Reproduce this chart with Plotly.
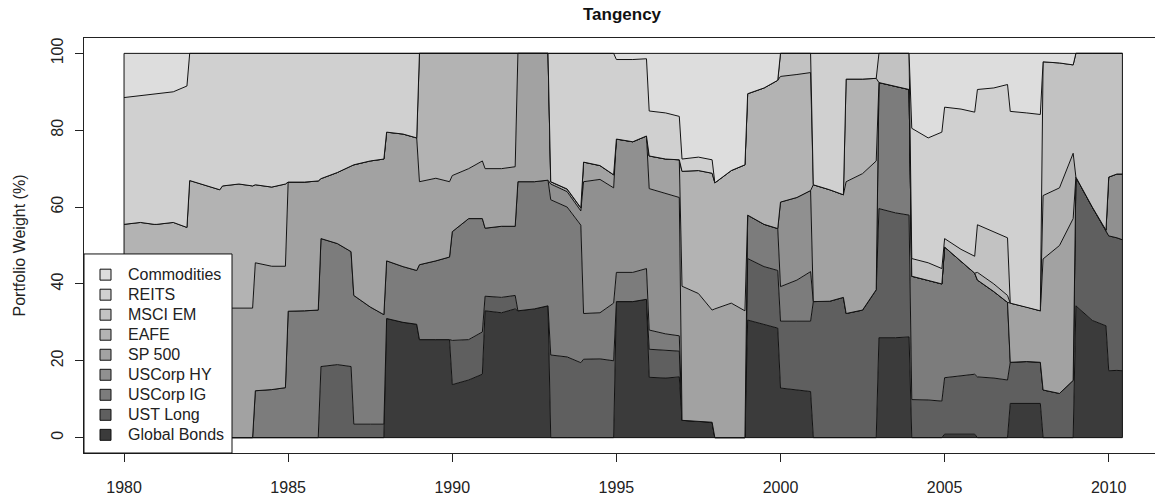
import plotly.graph_objects as go

# ---- sampling grid: Jan, Jul, Dec of each year; 2010 through June ----
dates = []
for yr in range(1980, 2010):
    dates += [yr + 0.0, yr + 0.5, yr + 11 / 12]
dates += [2010.0, 2010.25, 2010.417]

# ---- portfolio weights (%), 3 points per year ----
global_bonds = [
    0, 0, 0,  0, 0, 0,  0, 0, 0,  0, 0, 0,  0, 0, 0,  0, 0, 0,  0, 0, 0,  0, 0, 0,        # 1980-87
    31, 30, 29.5,  25.5, 25.5, 25.5,  13.8, 15, 16.5,  33, 32.5, 33.5,  33, 33.5, 34.3,    # 1988-92
    0, 0, 0,  0, 0, 0,  35.4, 35.4, 36,  15.7, 15.5, 15.8,  4.5, 4.3, 4,                   # 1993-97
    0, 0, 0,  30.6, 29.5, 28.5,  12.9, 12.5, 12,  0, 0, 0,  0, 0, 0,                       # 1998-02
    26, 26, 26.2,  0, 0, 0,  0.9, 0.9, 0.9,  0, 0, 0,  8.9, 8.9, 8.9,                      # 2003-07
    0, 0, 0,  34.3, 30.5, 29.1,  17.4, 17.5, 17.4,                                         # 2008-10
]
ust_long = [
    0, 0, 0,  0, 0, 0,  0, 0, 0,  0, 0, 0,  0, 0, 0,  0, 0, 0,  18.5, 19, 18.5,  3.5, 3.5, 3.5,
    0, 0, 0,  0, 0, 0,  11.5, 10.5, 11,  3.8, 4, 3.5,  0, 0, 0,
    21.5, 21, 19.5,  20.4, 20.5, 20,  0, 0, 0,  7.3, 7.2, 6.7,  0, 0, 0,
    0, 0, 0,  16, 15, 15,  17.4, 17.8, 18.3,  35.4, 35.5, 36.5,  32.3, 33.2, 38.5,
    33.6, 32.5, 31.7,  9.9, 9.8, 9.5,  14.7, 15.1, 15.6,  15.8, 15.5, 15,  10.7, 10.9, 10.7,
    12.4, 11.5, 14.9,  33.5, 29.5, 24.9,  35.1, 34.5, 34.1,
]
uscorp_ig = [
    0, 0, 0,  0, 0, 0,  0, 0, 0,  0, 0, 0,  12.2, 12.5, 13,  32.9, 33, 33.2,  33.3, 31.5, 29.9,  33.5, 30.5, 28.5,
    15, 14.5, 14,  19.5, 20.5, 21.5,  28.3, 31.5, 29.5,  17.7, 18.5, 18,  33.6, 33.1, 32.7,
    40.4, 39, 35.8,  11.9, 12, 15,  7.6, 7.6, 8,  5, 4.3, 4,  0, 0, 0,
    0, 0, 0,  11.3, 11, 10.9,  9, 10.7, 12.9,  0, 0, 0,  0, 0, 0,
    32.8, 33, 32.7,  32.1, 31.2, 30.5,  34, 30, 26.3,  25.2, 22.5, 20.2,  0, 0, 0,
    0, 0, 0,  0, 0, 0,  0, 0, 0,
]
uscorp_hy = [
    0, 0, 0,  0, 0, 0,  0, 0, 0,  0, 0, 0,  0, 0, 0,  0, 0, 0,  0, 0, 0,  0, 0, 0,
    0, 0, 0,  0, 0, 0,  0, 0, 0,  0, 0, 0,  0, 0, 0,
    4.1, 4, 3.7,  34.3, 34.7, 30,  34.7, 34, 34.5,  36.8, 36.5, 36,  0, 0, 0,
    0, 0, 0,  0, 0, 0,  22, 21.5, 21.1,  0, 0, 0,  0, 0, 0,
    0, 0, 0,  0, 0, 0,  0, 0, 0,  0, 0, 0,  0, 0, 0,
    0, 0, 0,  0, 0, 0,  15.3, 16.6, 17.1,
]
sp500 = [
    34, 34, 34,  34, 34, 34,  34, 34, 34,  33.7, 33.7, 33.7,  33.3, 32.1, 31.6,  33.6, 33.5, 33.6,  15.6, 18.5, 22.4,  34, 38, 40.5,
    33.5, 34.5, 34.5,  21.6, 21.5, 19.6,  14.6, 13, 15,  15.5, 15, 15.5,  33.4, 33.4, 33,
    0.6, 0.7, 0.8,  5.1, 3.6, 3.4,  0, 0, 0,  8.5, 9, 9.8,  34.9, 33.2, 29.2,
    33.5, 35, 33,  0, 0, 0,  0, 0, 0,  30.4, 29, 26.7,  34.3, 35.5, 33.5,
    0, 0, 0,  0, 0, 0,  0, 0, 0,  0, 0, 0,  15.4, 14.2, 13.4,
    34.1, 38.5, 42.1,  0, 0, 0,  0, 0, 0,
]
eafe = [
    21.5, 22, 21.5,  21.5, 22, 20.7,  32.9, 31.5, 30.5,  31.8, 32.3, 31.8,  20.3, 20.6, 21.4,  0, 0, 0,  0, 0, 0,  0, 0, 0,
    0, 0, 0,  33.4, 32.5, 33.4,  31.8, 30, 28,  30, 30, 29.5,  0, 0, 0,
    0, 0, 0,  0, 0, 0,  0, 0, 0,  0, 0, 0,  29.9, 32, 35.6,
    32.8, 34.5, 38,  31.6, 35.5, 38.6,  32.7, 32, 30.7,  0, 0, 0,  26.7, 24.6, 21.5,
    0, 0, 0,  0, 0, 0,  0, 0, 0,  2, 2, 1.8,  0, 0, 0,
    16.5, 15, 17,  0, 0, 0,  0, 0, 0,
]
msci_em = [
    0, 0, 0,  0, 0, 0,  0, 0, 0,  0, 0, 0,  0, 0, 0,  0, 0, 0,  0, 0, 0,  0, 0, 0,
    0, 0, 0,  0, 0, 0,  0, 0, 0,  0, 0, 0,  0, 0, 0,
    0, 0, 0,  0, 0, 0,  0, 0, 0,  0, 0, 0,  0, 0, 0,
    0, 0, 0,  0, 0, 0,  6, 5.5, 5,  0, 0, 0,  0, 0, 0,
    7.6, 8.5, 9.4,  4.6, 4.5, 4,  2.2, 3, 4.4,  12.4, 13.5, 15,  0, 0, 0,
    34.8, 32.5, 23,  32.2, 40, 46,  32.2, 31.4, 31.4,
]
reits = [
    33, 33, 34,  34, 34, 36.8,  33.1, 34.5, 35.5,  34.5, 34, 34.5,  34.2, 34.8, 34,  33.5, 33.5, 33.2,  32.6, 31, 29.2,  29, 28, 27.5,
    20.5, 21, 22,  0, 0, 0,  0, 0, 0,  0, 0, 0,  0, 0, 0,
    33.4, 35.3, 40.2,  28.3, 29.2, 31.6,  20.7, 21.4, 20.1,  11.7, 12, 11.3,  3.2, 3.5, 3.5,
    0, 0, 0,  0, 0, 0,  0, 0, 0,  34.2, 35.5, 36.8,  6.7, 6.7, 6.5,
    0, 0, 0,  33.9, 32.5, 35.5,  34.2, 36.5, 37.5,  35.2, 37.5, 39.9,  49.9, 50.5, 51.1,
    0, 0, 0,  0, 0, 0,  0, 0, 0,
]
commodities = [
    11.5, 11, 10.5,  10.5, 10, 8.5,  0, 0, 0,  0, 0, 0,  0, 0, 0,  0, 0, 0,  0, 0, 0,  0, 0, 0,
    0, 0, 0,  0, 0, 0,  0, 0, 0,  0, 0, 0,  0, 0, 0,
    0, 0, 0,  0, 0, 0,  1.6, 1.6, 1.4,  15, 15.5, 16.4,  27.5, 27, 27.7,
    33.7, 30.5, 29,  10.5, 9, 7,  0, 0, 0,  0, 0, 0,  0, 0, 0,
    0, 0, 0,  19.5, 22, 20.5,  14, 14.5, 15.3,  9.4, 9, 8.1,  15.1, 15.5, 15.9,
    2.2, 2.5, 3,  0, 0, 0,  0, 0, 0,
]

# stack order bottom -> top
series_names = ["Global Bonds", "UST Long", "USCorp IG", "USCorp HY", "SP 500",
                "EAFE", "MSCI EM", "REITS", "Commodities"]
series_values = [global_bonds, ust_long, uscorp_ig, uscorp_hy, sp500,
                 eafe, msci_em, reits, commodities]
series_colors = ["#3b3b3b", "#5f5f5f", "#7c7c7c", "#909090", "#a2a2a2",
                 "#b3b3b3", "#c2c2c2", "#d0d0d0", "#dddddd"]
x_ticks = [1980, 1985, 1990, 1995, 2000, 2005, 2010]
y_ticks = [0, 20, 40, 60, 80, 100]

FONT = "Liberation Sans, Arial, Helvetica, sans-serif"

fig = go.Figure()
for name, vals, col in zip(series_names, series_values, series_colors):
    fig.add_trace(go.Scatter(
        x=dates, y=vals, name=name, mode="lines", stackgroup="w",
        line=dict(color="#111111", width=1), fillcolor=col,
        hovertemplate=name + ": %{y:.1f}%<extra></extra>",
    ))

# outline of the stacked polygon (left, right, bottom)
x0, x1 = dates[0], dates[-1]
shapes = [
    dict(type="line", xref="x", yref="y", x0=x0, x1=x0, y0=0, y1=100, line=dict(color="#111", width=1)),
    dict(type="line", xref="x", yref="y", x0=x1, x1=x1, y0=0, y1=100, line=dict(color="#111", width=1)),
    dict(type="line", xref="x", yref="y", x0=x0, x1=x1, y0=0, y1=0, line=dict(color="#111", width=1)),
]

# manual legend box (bottom-left), top-to-bottom = Commodities ... Global Bonds
PW, PH = 1071.0, 417.0   # plot area size in px
def px_x(px):
    return (px - 84) / PW
def px_y(py):
    return (455 - py) / PH

shapes.append(dict(type="rect", xref="paper", yref="paper", x0=px_x(84), x1=px_x(232),
                   y0=px_y(455), y1=px_y(255), fillcolor="white",
                   line=dict(color="#111", width=1), layer="above"))
annotations = []
row0, dy = 275.8, 20.12
for i, (name, col) in enumerate(zip(series_names[::-1], series_colors[::-1])):
    yc = row0 + i * dy
    shapes.append(dict(type="rect", xref="paper", yref="paper",
                       x0=px_x(100), x1=px_x(111), y0=px_y(yc + 5.5), y1=px_y(yc - 5.5),
                       fillcolor=col, line=dict(color="#111", width=1), layer="above"))
    annotations.append(dict(xref="paper", yref="paper", x=px_x(126), y=px_y(yc),
                            xanchor="left", yanchor="middle", text=name, showarrow=False,
                            font=dict(family=FONT, size=16, color="#222")))

fig.update_layout(
    width=1155, height=496,
    margin=dict(l=84, r=0, t=38, b=41, pad=0),
    paper_bgcolor="white", plot_bgcolor="white",
    showlegend=False,
    font=dict(family=FONT, size=16, color="#222"),
    title=dict(text="<b>Tangency</b>", xref="container", yref="container",
               x=622 / 1155, xanchor="center", y=1 - 14 / 496, yanchor="middle",
               font=dict(family=FONT, size=17, color="#111")),
    shapes=shapes, annotations=annotations,
)
fig.update_xaxes(range=[1978.78, 2011.41], tickmode="array", tickvals=x_ticks,
                 ticks="outside", ticklen=8, tickwidth=1, tickcolor="#222",
                 showline=True, linecolor="#222", linewidth=1, mirror=True,
                 showgrid=False, zeroline=False, ticklabelstandoff=12)
fig.update_yaxes(range=[-4, 104], tickmode="array", tickvals=y_ticks, tickangle=-90,
                 ticks="outside", ticklen=8, tickwidth=1, tickcolor="#222",
                 showline=True, linecolor="#222", linewidth=1, mirror=False,
                 showgrid=False, zeroline=False, ticklabelstandoff=6,
                 title=dict(text="Portfolio Weight (%)", standoff=18,
                            font=dict(family=FONT, size=16, color="#222")))

fig.write_html("out.html")
